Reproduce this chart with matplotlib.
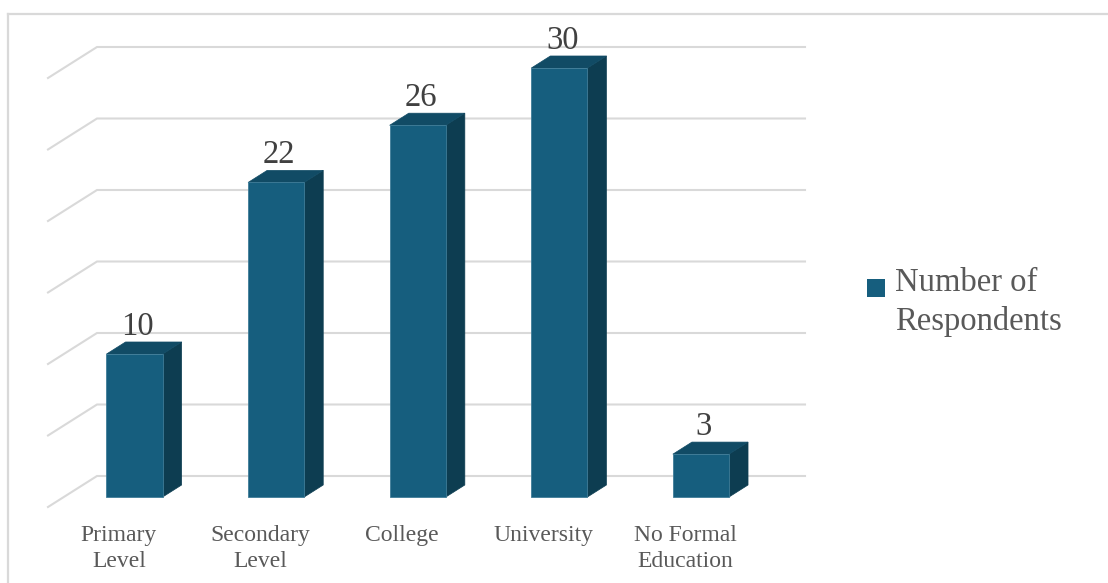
import matplotlib
matplotlib.use("Agg")
import matplotlib.pyplot as plt
from matplotlib.patches import Polygon, Rectangle
from matplotlib.lines import Line2D
from matplotlib.transforms import IdentityTransform

# ---- data ----
categories = ["Primary\nLevel", "Secondary\nLevel", "College", "University", "No Formal\nEducation"]
values = [10, 22, 26, 30, 3]
grid_values = [0, 5, 10, 15, 20, 25, 30]
series_name = "Number of\nRespondents"

# ---- style ----
W, H = 1108, 583
FRONT = "#165E7E"
SIDE = "#0D3D51"
TOP = "#114B65"
GRID = "#D9D9D9"
TXT = "#595959"
VAL_TXT = "#404040"
FONT = "Liberation Serif"
DX, DY = 49, 31          # full depth offset in pixels
D0, D1 = 0.32, 0.71      # bar front/back depth fraction
HALF = 0.198             # half bar width in category units

fig = plt.figure(figsize=(W / 100, H / 100), dpi=100)
ax = fig.add_axes([48 / W, (H - 507) / H, 708 / W, 429 / H])
ax.set_xlim(-0.5, len(categories) - 0.5)
ax.set_ylim(0, 30)
ax.axis("off")
ident = IdentityTransform()


def P(x, v, d):
    X, Y = ax.transData.transform((x, v))
    return (X + d * DX, Y + d * DY)


# outer chart border (left and top)
fig.add_artist(Line2D([7.5, 7.5], [-5, H - 14], transform=ident, color=GRID, lw=1.6, zorder=0))
fig.add_artist(Line2D([7.5, W + 5], [H - 14, H - 14], transform=ident, color=GRID, lw=1.6, zorder=0))

# gridlines (back wall + side diagonal)
x0, x1 = -0.5, len(categories) - 0.5
for g in grid_values:
    a = P(x0, g, 0)
    b = P(x0, g, 1)
    c = P(x1, g, 1)
    fig.add_artist(Line2D([a[0], b[0], c[0]], [a[1], b[1], c[1]], transform=ident,
                          color=GRID, lw=1.5, zorder=1, solid_joinstyle="miter"))

# bars
for i, v in enumerate(values):
    fl0 = P(i - HALF, 0, D0); fr0 = P(i + HALF, 0, D0)
    fl1 = P(i - HALF, v, D0); fr1 = P(i + HALF, v, D0)
    br0 = P(i + HALF, 0, D1); br1 = P(i + HALF, v, D1)
    bl1 = P(i - HALF, v, D1)
    fig.add_artist(Polygon([fr0, br0, br1, fr1], closed=True, transform=ident,
                           facecolor=SIDE, edgecolor=SIDE, lw=0.5, zorder=2))
    fig.add_artist(Polygon([fl1, fr1, br1, bl1], closed=True, transform=ident,
                           facecolor=TOP, edgecolor=TOP, lw=0.5, zorder=2))
    fig.add_artist(Polygon([fl0, fr0, fr1, fl1], closed=True, transform=ident,
                           facecolor=FRONT, edgecolor="#3F7C98", lw=0.6, zorder=3))
    # value label
    cx = (fl1[0] + fr1[0]) / 2 + 3
    fig.text(cx, fr1[1] + 19, str(v), transform=ident, ha="center", va="baseline",
             fontsize=23.5, color=VAL_TXT, family=FONT, zorder=4)

# category labels
for i, c in enumerate(categories):
    X, Y = P(i, 0, 0)
    fig.text(X, H - 525, c, transform=ident, ha="center", va="top",
             fontsize=17, color=TXT, family=FONT, linespacing=1.31)

# legend
fig.add_artist(Rectangle((867, H - 297), 18, 18, transform=ident, facecolor=FRONT,
                         edgecolor="none", zorder=3))
fig.text(895, H - 330, series_name, transform=ident, ha="left", va="baseline",
         fontsize=23.5, color=TXT, family=FONT, linespacing=1.33)

fig.savefig("out.png", dpi=100)
